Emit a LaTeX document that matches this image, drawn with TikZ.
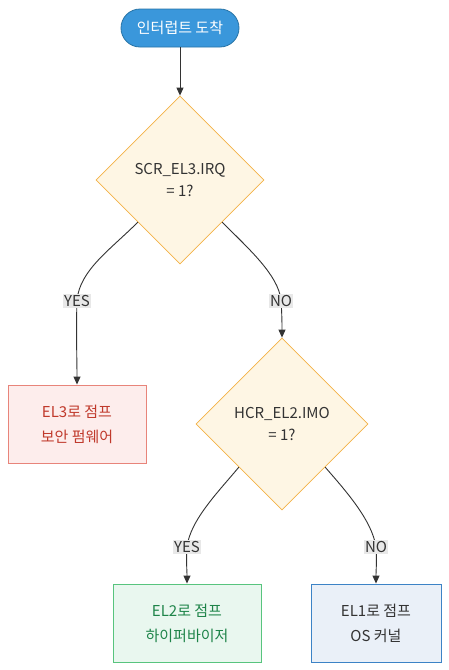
\documentclass[tikz,border=0pt]{standalone}
\usepackage{fontspec}
\setmainfont{Noto Sans CJK KR}
\usetikzlibrary{shapes.geometric,arrows.meta}
\definecolor{startfill}{HTML}{3A97DB}
\definecolor{startdraw}{HTML}{2874A6}
\definecolor{decfill}{HTML}{FEF6E4}
\definecolor{decdraw}{HTML}{F3B245}
\definecolor{redfill}{HTML}{FDEDEC}
\definecolor{reddraw}{HTML}{E8847A}
\definecolor{redtext}{HTML}{C0392B}
\definecolor{grnfill}{HTML}{E9F7EF}
\definecolor{grndraw}{HTML}{58C47E}
\definecolor{grntext}{HTML}{1E8449}
\definecolor{bluefill}{HTML}{EAF0F8}
\definecolor{bluedraw}{HTML}{3C83C6}
\definecolor{ink}{HTML}{333333}
\definecolor{lblbg}{HTML}{E8E8E8}
\tikzset{
  startn/.style={draw=startdraw, fill=startfill, text=white, rounded corners=19pt,
    minimum width=118pt, minimum height=38pt, line width=0.8pt, font=\fontsize{15}{18}\selectfont},
  decn/.style={diamond, draw=decdraw, fill=decfill, text=ink, inner sep=0pt, aspect=1,
    line width=0.8pt, align=center, font=\fontsize{15}{22}\selectfont},
  boxn/.style={rectangle, line width=0.9pt, align=center, inner sep=0pt,
    minimum height=78pt, font=\fontsize{15}{25}\selectfont},
  conn/.style={draw=ink, line width=0.9pt, -{Triangle[length=8pt,width=7pt]}},
  lbl/.style={fill=lblbg, text=ink, inner sep=1.5pt, font=\fontsize{15}{16}\selectfont}
}
\begin{document}
\begin{tikzpicture}[x=1pt,y=-1pt]
\useasboundingbox[fill=white] (0,0) rectangle (449,670);
\node[startn] (start) at (180,28) {인터럽트 도착};
\node[decn, minimum width=168pt, minimum height=168pt] (d1) at (180,180) {SCR\_EL3.IRQ\\= 1?};
\node[boxn, draw=reddraw, fill=redfill, text=redtext, minimum width=138pt] (el3) at (77,424) {EL3로 점프\\보안 펌웨어};
\node[decn, minimum width=172pt, minimum height=172pt] (d2) at (282,424) {HCR\_EL2.IMO\\= 1?};
\node[boxn, draw=grndraw, fill=grnfill, text=grntext, minimum width=148pt] (el2) at (187,623) {EL2로 점프\\하이퍼바이저};
\node[boxn, draw=bluedraw, fill=bluefill, text=ink, minimum width=130pt] (el1) at (376,623) {EL1로 점프\\OS 커널};

\draw[conn] (start.south) -- (d1.north);
\draw[conn] (d1.south west) .. controls (110,250) and (80,270) .. (77,300) .. controls (76,330) and (77,360) .. (el3.north);
\draw[conn] (d1.south east) .. controls (250,250) and (278,275) .. (281,300) .. controls (282,315) and (282,325) .. (d2.north);
\draw[conn] (d2.south west) .. controls (220,490) and (190,520) .. (187,547) .. controls (186,560) and (187,570) .. (el2.north);
\draw[conn] (d2.south east) .. controls (345,490) and (372,520) .. (376,547) .. controls (377,560) and (376,570) .. (el1.north);

\node[lbl] (yes1) at (77,301) {YES};
\node[lbl] (no1) at (281,301) {NO};
\node[lbl] (yes2) at (187,547) {YES};
\node[lbl] (no2) at (376,547) {NO};
\end{tikzpicture}
\end{document}
